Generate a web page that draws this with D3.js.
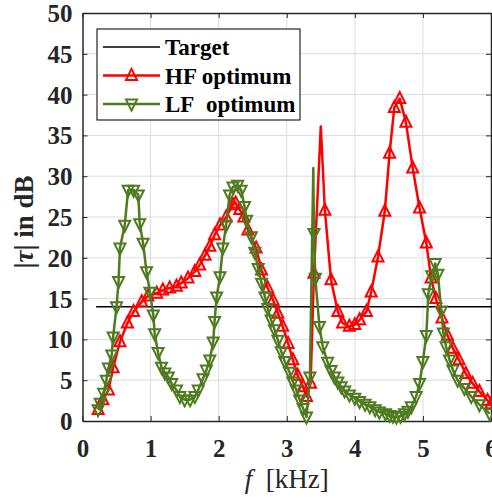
<!DOCTYPE html>
<html>
<head>
<meta charset="utf-8">
<script src="https://d3js.org/d3.v7.min.js"></script>
<style>
  body { margin: 0; padding: 0; background: #fff; }
  .grid line { stroke: #dcdcdc; stroke-width: 1; }
</style>
</head>
<body>
<div id="my_dataviz"></div>
<script>
// frequency in kHz, |tau| in dB
var hfF  = [0.23,0.30,0.38,0.45,0.55,0.66,0.75,0.87,0.96,1.09,1.18,1.28,1.38,1.45,1.55,1.65,1.72,1.80,1.87,1.94,2.02,2.11,2.21,2.25,2.31,2.37,2.43,2.55,2.63,2.72,2.80,2.87,2.94,3.02,3.09,3.16,3.24,3.29,3.35,3.40,3.50,3.56,3.65,3.75,3.82,3.92,4.00,4.07,4.17,4.24,4.34,4.44,4.51,4.58,4.66,4.75,4.85,4.95,5.05,5.12,5.19,5.28,5.36,5.44,5.53,5.63,5.73,5.83,5.95,6.00];
var hfDb = [1.4,2.6,3.8,6.5,9.7,12.0,13.4,14.6,15.3,15.65,16.05,16.3,16.5,16.9,17.5,18.3,19.1,20.3,21.4,22.8,24.0,25.0,26.5,26.7,25.9,25.0,23.4,21.2,18.5,16.3,14.8,13.2,11.6,9.5,7.5,5.6,4.2,3.0,4.6,18.1,36.1,25.8,17.3,13.4,12.0,11.6,11.8,12.4,13.4,15.8,20.1,25.7,32.8,38.4,39.5,36.6,31.0,26.1,21.8,17.5,15.0,12.6,10.5,8.9,7.5,5.8,4.6,3.6,2.5,2.1];
var hfNoMarker = [3.50];

var lfF  = [0.23,0.26,0.31,0.35,0.38,0.43,0.45,0.50,0.53,0.55,0.62,0.67,0.75,0.82,0.84,0.89,0.94,0.99,1.04,1.06,1.11,1.16,1.21,1.26,1.31,1.38,1.43,1.50,1.58,1.65,1.70,1.77,1.82,1.87,1.92,1.94,1.97,2.02,2.06,2.11,2.16,2.21,2.28,2.33,2.38,2.41,2.48,2.53,2.58,2.63,2.68,2.72,2.77,2.82,2.87,2.92,2.97,3.04,3.09,3.14,3.19,3.24,3.29,3.34,3.39,3.40,3.42,3.48,3.53,3.60,3.65,3.70,3.75,3.80,3.85,3.92,4.00,4.07,4.15,4.22,4.30,4.36,4.45,4.51,4.56,4.61,4.67,4.73,4.78,4.83,4.90,4.95,5.00,5.05,5.08,5.13,5.18,5.22,5.27,5.30,5.34,5.39,5.44,5.51,5.61,5.71,5.83,5.98];
var lfDb = [1.4,2.2,3.4,5.0,6.5,8.1,10.3,14.0,17.1,21.2,24.0,28.3,28.3,27.7,24.2,21.8,18.3,15.8,13.0,10.7,8.4,6.6,5.9,5.4,4.6,3.8,3.0,2.6,2.6,3.0,3.8,5.2,6.25,7.5,9.7,12.2,15.2,17.7,21.2,24.0,27.7,28.7,28.9,28.3,26.3,24.6,22.6,20.7,18.7,16.9,15.2,13.8,12.4,11.2,9.9,8.5,7.3,6.0,4.8,3.8,2.6,1.55,0.5,5.4,31.0,23.0,17.5,11.6,9.1,7.2,6.2,5.4,4.8,4.2,3.7,3.2,2.8,2.4,2.05,1.75,1.4,1.1,0.9,0.7,0.6,0.5,0.6,0.9,1.2,1.75,3.0,4.6,7.3,10.5,15.6,17.8,19.3,18.0,13.5,10.8,9.1,7.5,6.25,5.0,4.0,3.0,2.0,0.9];
var lfNoMarker = [3.39];

var targetF  = [0.2, 6.0];
var targetDb = [14, 14];

var xTicks = [0,1,2,3,4,5,6];
var yTicks = [0,5,10,15,20,25,30,35,40,45,50];

var margin = {top: 13, right: 1, bottom: 76, left: 82.5},
    width = 492 - margin.left - margin.right,
    height = 497 - margin.top - margin.bottom;

var serif = "'Liberation Serif', 'Times New Roman', serif";

var svg = d3.select("#my_dataviz")
  .append("svg")
    .attr("width", 492)
    .attr("height", 497)
  .append("g")
    .attr("transform", "translate(" + margin.left + "," + margin.top + ")");

var x = d3.scaleLinear().domain([0, 6]).range([0, width]);
var y = d3.scaleLinear().domain([0, 50]).range([height, 0]);

// grid
svg.append("g").attr("class", "grid")
  .selectAll("line").data(xTicks.slice(1, -1)).enter().append("line")
    .attr("x1", function(d) { return x(d); }).attr("x2", function(d) { return x(d); })
    .attr("y1", 0).attr("y2", height);
svg.append("g").attr("class", "grid")
  .selectAll("line").data(yTicks.slice(1, -1)).enter().append("line")
    .attr("y1", function(d) { return y(d); }).attr("y2", function(d) { return y(d); })
    .attr("x1", 0).attr("x2", width);

// axes, ticks inside like matlab
function styleAxis(g) {
  g.select(".domain").attr("stroke", "#262626").attr("stroke-width", 1.5);
  g.selectAll(".tick line").attr("stroke", "#262626").attr("stroke-width", 1);
  g.selectAll(".tick text")
    .style("font-family", serif)
    .style("font-weight", "bold")
    .style("font-size", "25px")
    .style("fill", "#262626");
}
svg.append("g")
  .attr("transform", "translate(0," + height + ")")
  .call(d3.axisBottom(x).tickValues(xTicks).tickFormat(d3.format("d")).tickSize(-5).tickPadding(18).tickSizeOuter(0))
  .call(styleAxis);
svg.append("g")
  .call(d3.axisLeft(y).tickValues(yTicks).tickFormat(d3.format("d")).tickSize(-5).tickPadding(10).tickSizeOuter(0))
  .call(styleAxis)
  .selectAll(".tick text").attr("dy", "0.34em");
svg.append("g")
  .call(d3.axisTop(x).tickValues(xTicks).tickSize(-5).tickSizeOuter(0).tickFormat(""))
  .call(styleAxis);
svg.append("g")
  .attr("transform", "translate(" + width + ",0)")
  .call(d3.axisRight(y).tickValues(yTicks).tickSize(-5).tickSizeOuter(0).tickFormat(""))
  .call(styleAxis);

// axis labels
svg.append("text")
  .attr("x", width / 2)
  .attr("y", height + 67)
  .attr("text-anchor", "middle")
  .style("font-family", serif)
  .style("font-size", "27px")
  .style("fill", "#262626")
  .html('<tspan font-style="italic">f</tspan>\u2002[kHz]');

svg.append("text")
  .attr("transform", "translate(" + (-49.5) + "," + (height / 2 + 5) + ") rotate(-90)")
  .attr("text-anchor", "middle")
  .style("font-family", serif)
  .style("font-size", "27px")
  .style("font-weight", "bold")
  .style("fill", "#262626")
  .html('|<tspan font-style="italic">\u03c4</tspan>| in dB');

var line = d3.line()
  .x(function(d) { return x(d[0]); })
  .y(function(d) { return y(d[1]); });

var tri = 11;
var triUp = "M0," + (-tri * 0.6) + "L" + (tri / 2) + "," + (tri * 0.4) + "L" + (-tri / 2) + "," + (tri * 0.4) + "Z";
var triDown = "M0," + (tri * 0.6) + "L" + (tri / 2) + "," + (-tri * 0.4) + "L" + (-tri / 2) + "," + (-tri * 0.4) + "Z";

var red = "#ff0000", green = "#4e7b20";

// target
svg.append("path")
  .datum(d3.zip(targetF, targetDb))
  .attr("d", line)
  .attr("fill", "none").attr("stroke", "#000").attr("stroke-width", 1.5);

function drawSeries(fs, dbs, skip, color, shape) {
  var data = d3.zip(fs, dbs);
  svg.append("path")
    .datum(data)
    .attr("d", line)
    .attr("fill", "none").attr("stroke", color).attr("stroke-width", 2.5)
    .attr("stroke-linejoin", "round");
  svg.append("g")
    .selectAll("path")
    .data(data.filter(function(d) { return skip.indexOf(d[0]) < 0; }))
    .enter().append("path")
      .attr("d", shape)
      .attr("transform", function(d) { return "translate(" + x(d[0]) + "," + y(d[1]) + ")"; })
      .attr("fill", "none").attr("stroke", color).attr("stroke-width", 2);
}
drawSeries(hfF, hfDb, hfNoMarker, red, triUp);
drawSeries(lfF, lfDb, lfNoMarker, green, triDown);

// legend
var lg = svg.append("g").attr("transform", "translate(" + (97 - margin.left) + "," + (29 - margin.top) + ")");
lg.append("rect").attr("width", 203).attr("height", 91)
  .attr("fill", "#fff").attr("stroke", "#262626").attr("stroke-width", 1.2);
var items = [
  {name: "Target", color: "#000", shape: null},
  {name: "HF optimum", color: red, shape: triUp},
  {name: "LF\u00a0 optimum", color: green, shape: triDown}
];
items.forEach(function(it, i) {
  var yy = 18 + i * 28.5;
  lg.append("line").attr("x1", 6).attr("x2", 63).attr("y1", yy).attr("y2", yy)
    .attr("stroke", it.color).attr("stroke-width", it.shape ? 2.5 : 1.5);
  if (it.shape) {
    lg.append("path").attr("d", it.shape).attr("transform", "translate(34.5," + yy + ")")
      .attr("fill", "none").attr("stroke", it.color).attr("stroke-width", 2);
  }
  lg.append("text").attr("x", 68).attr("y", yy).attr("dy", "0.35em")
    .style("font-family", serif)
    .style("font-size", "23px").style("font-weight", "bold")
    .style("fill", "#000")
    .text(it.name);
});
</script>
</body>
</html>
